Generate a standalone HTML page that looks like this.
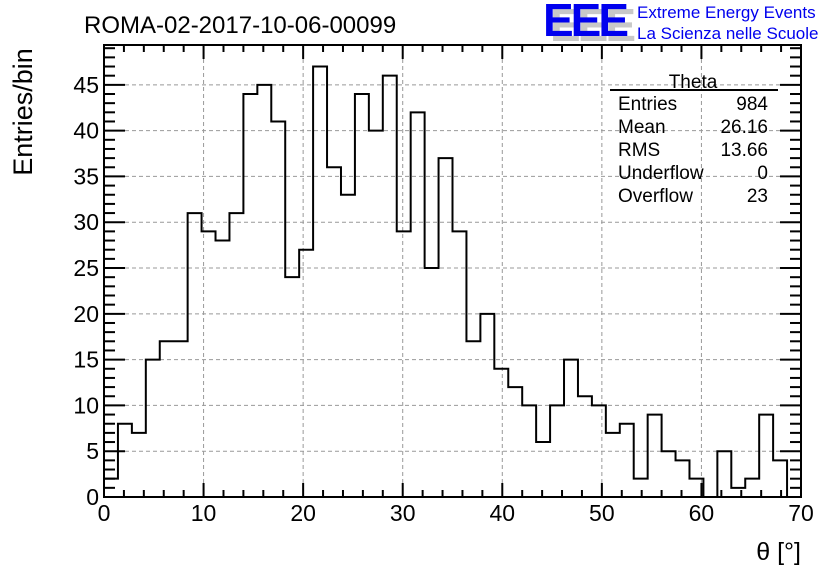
<!DOCTYPE html>
<html><head><meta charset="utf-8"><style>
body{margin:0;background:#fff;}
svg{display:block;font-family:"Liberation Sans",Arial,sans-serif;}
</style></head><body>
<svg id="chart" width="836" height="572" viewBox="0 0 836 572" xmlns="http://www.w3.org/2000/svg">
<rect width="836" height="572" fill="#fff"/>
<g id="grid"></g>
<g id="ticks"></g>
<path id="hist" fill="none" stroke="#000" stroke-width="2"/>
<rect x="104" y="45" width="697" height="452" fill="none" stroke="#000" stroke-width="2"/>
<g id="labels" font-size="23"></g>
<text x="84" y="33" font-size="24">ROMA-02-2017-10-06-00099</text>
<text x="801" y="560" font-size="25" text-anchor="end">θ [°]</text>
<text transform="translate(32,112) rotate(-90)" font-size="27" text-anchor="middle">Entries/bin</text>
<g>
<text x="550" y="41" font-size="46" fill="#c8c8c8" font-weight="bold" letter-spacing="-3">EEE</text>
<text x="543" y="36" font-size="46" fill="#0000ee" font-weight="bold" letter-spacing="-3">EEE</text>
<text x="637" y="18" font-size="17" fill="#0000ee">Extreme Energy Events</text>
<text x="637" y="39" font-size="17" fill="#0000ee">La Scienza nelle Scuole</text>
</g>
<g font-size="19">
<text x="693" y="88" text-anchor="middle">Theta</text>
<line x1="610" y1="90" x2="778" y2="90" stroke="#000" stroke-width="2"/>
<text x="618" y="110">Entries</text><text x="768" y="110" text-anchor="end">984</text>
<text x="618" y="133">Mean</text><text x="768" y="133" text-anchor="end">26.16</text>
<text x="618" y="156">RMS</text><text x="768" y="156" text-anchor="end">13.66</text>
<text x="618" y="179">Underflow</text><text x="768" y="179" text-anchor="end">0</text>
<text x="618" y="202">Overflow</text><text x="768" y="202" text-anchor="end">23</text>
</g>
</svg>
<script>
const binWidth = 1.4;
const counts = [2,8,7,15,17,17,31,29,28,31,44,45,41,24,27,47,36,33,44,40,46,29,42,25,37,29,17,20,14,12,10,6,10,15,11,10,7,8,2,9,5,4,2,0,5,1,2,9,4];
const xTicks = [0,10,20,30,40,50,60,70];
const yTicks = [0,5,10,15,20,25,30,35,40,45];
const X0=104,X1=801,Y0=497,Y1=45,xmax=70,ymax=49.35;
const sx=v=>X0+(v/xmax)*(X1-X0);
const sy=v=>Y0-(v/ymax)*(Y0-Y1);
const NS="http://www.w3.org/2000/svg";
let d="M"+sx(0)+","+sy(0);
counts.forEach((c,i)=>{d+=" L"+sx(i*binWidth)+","+sy(c)+" L"+sx((i+1)*binWidth)+","+sy(c);});
d+=" L"+sx(counts.length*binWidth)+","+sy(0);
document.getElementById('hist').setAttribute('d',d);
const grid=document.getElementById('grid'),ticks=document.getElementById('ticks'),labels=document.getElementById('labels');
function ln(g,x1,y1,x2,y2,dash,name){const l=document.createElementNS(NS,'line');
l.setAttribute('x1',x1);l.setAttribute('y1',y1);l.setAttribute('x2',x2);l.setAttribute('y2',y2);
l.setAttribute('stroke',dash?'#999':'#000');l.setAttribute('stroke-width',dash?1:2);
if(dash)l.setAttribute('stroke-dasharray','4,3');


g.appendChild(l);}
function tx(x,y,s,anchor,name){const t=document.createElementNS(NS,'text');t.setAttribute('x',x);t.setAttribute('y',y);t.setAttribute('text-anchor',anchor);t.textContent=s;


labels.appendChild(t);}
xTicks.forEach(v=>{const x=sx(v);if(v>0&&v<xmax)ln(grid,x,Y0,x,Y1,true,'x-grid-line');tx(x,521,String(v),'middle','x-tick-label');});
yTicks.forEach(v=>{const y=sy(v);if(v>0)ln(grid,X0,y,X1,y,true,'y-grid-line');tx(99,y+8,String(v),'end','y-tick-label');});
for(let v=0;v<=xmax;v+=2){const x=sx(v),L=(v%10===0)?14:7;ln(ticks,x,Y0,x,Y0-L,false,'x-tick');ln(ticks,x,Y1,x,Y1+L,false,'x-tick-top');}
for(let v=0;v<=ymax;v+=1){const y=sy(v),L=(v%5===0)?21:11;ln(ticks,X0,y,X0+L,y,false,'y-tick');ln(ticks,X1,y,X1-L,y,false,'y-tick-right');}
</script>
</body></html>
